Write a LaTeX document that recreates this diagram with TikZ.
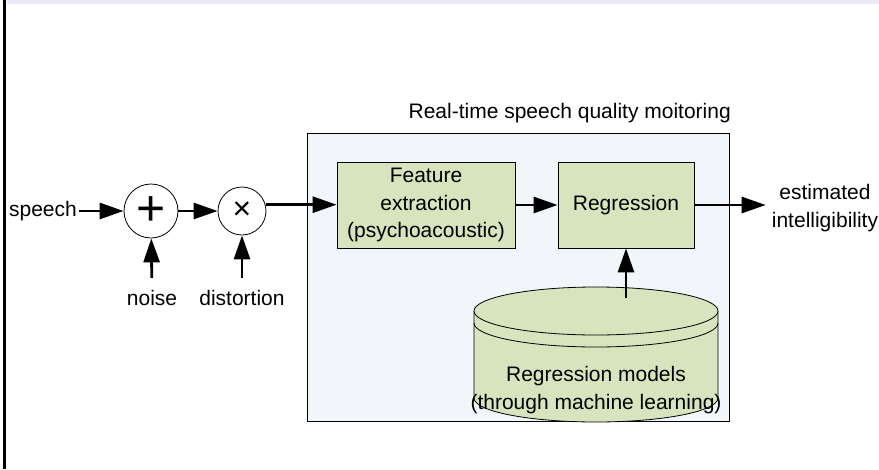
\documentclass[tikz,border=0pt]{standalone}
\usepackage{fontspec}
\setmainfont{Liberation Sans}
\usetikzlibrary{arrows.meta}
\definecolor{boxbg}{HTML}{F2F6FA}
\definecolor{blockgreen}{HTML}{D7E4BD}
\definecolor{bandblue}{HTML}{E8E8F8}
\tikzset{
  sig/.style={-{Triangle[length=24pt,width=16pt]},line width=2.8pt},
  blk/.style={draw,fill=blockgreen,line width=0.8pt,align=center,minimum height=86pt,inner sep=0pt},
  op/.style={draw,circle,fill=white,line width=0.8pt,inner sep=0pt},
  lbl/.style={anchor=base,text height=15pt},
}

\begin{document}
\begin{tikzpicture}[x=1pt,y=-1pt,inner sep=2pt,font=\fontsize{21}{27.5}\selectfont]
  \useasboundingbox (0,0) rectangle (879,469);
  \fill[bandblue] (7,0) rectangle (879,3.7); %上の帯
  \draw[line width=3pt] (4.5,0)--(4.5,469); %左の枠
  \node[draw,fill=boxbg,line width=0.8pt,minimum width=422pt,minimum height=288pt] (mon) at (518,277) {}; %監視部
  \node[anchor=east] (title) at (733,113) {Real-time speech quality moitoring};
  \node[blk,minimum width=178pt] (feat) at (426,205) {Feature\\extraction\\(psychoacoustic)};
  \node[blk,minimum width=136pt] (reg) at (626,205) {Regression};
  \draw[fill=blockgreen,line width=0.8pt] (474,311)--(474,398) arc[start angle=180,end angle=360,x radius=122pt,y radius=24pt]--(718,311); %円柱
  \draw[fill=blockgreen,line width=0.8pt] (596,311) ellipse[x radius=122pt,y radius=24pt];
  \draw[line width=0.8pt] (474,323) arc[start angle=180,end angle=360,x radius=122pt,y radius=24pt];
  \node[align=center] (db) at (596,390) {Regression models\\(through machine learning)};
  \coordinate (dbtop) at (626,298);
  \node[anchor=east] (speech) at (79,211) {speech};
  \node[op,minimum size=54pt] (plus) at (151,211) {\fontsize{50}{50}\selectfont +};
  \node[op,minimum size=48pt] (times) at (242,211) {\fontsize{32}{32}\selectfont ×};
  \node[lbl] (noise) at (152,305) {noise};
  \node[lbl] (dist) at (242,305) {distortion};
  \node[align=center] (est) at (825,208) {estimated\\intelligibility};
  \draw[sig] (speech)--(plus);
  \draw[sig] (plus)--(times);
  \draw[sig,shorten <=10pt] (noise)--(plus);
  \draw[sig,shorten <=10pt] (dist)--(times);
  \draw[sig] (times.15)--(times.15 -| feat.west);
  \draw[sig] (feat)--(reg);
  \draw[sig] (dbtop)--(reg);
  \draw[sig,shorten >=4pt] (reg)--(reg -| est.west);
\end{tikzpicture}
\end{document}
